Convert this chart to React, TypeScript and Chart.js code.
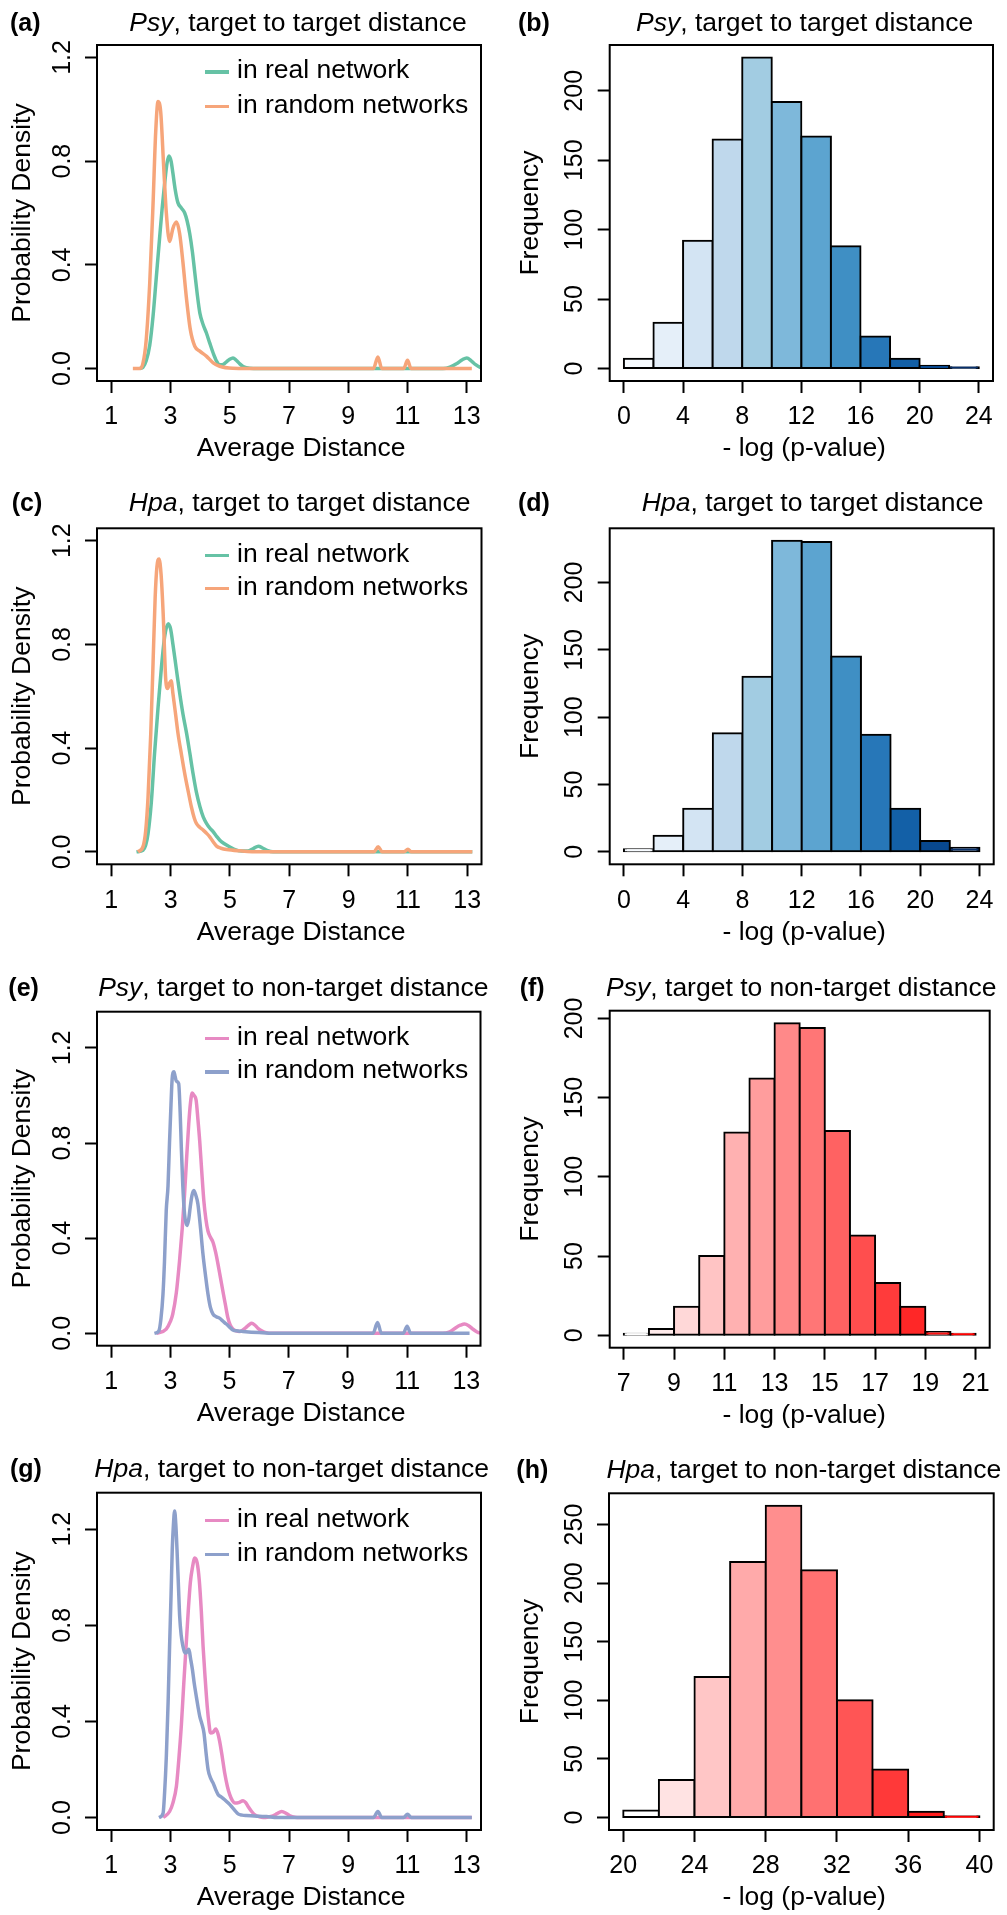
import React, { useEffect, useRef } from "react";
import { Chart, registerables } from "chart.js";
Chart.register(...registerables);

const FONT = '"Liberation Sans", Arial, Helvetica, sans-serif';
const GREEN = "#66C2A5";
const ORANGE = "#F6A57A";
const PINK = "#E78AC3";
const BLUE = "#8DA0CB";

// ---------- density data (Average Distance vs Probability Density) ----------
const A_RAND_X = [1.73,1.96,2.07,2.18,2.3,2.41,2.5,2.58,2.67,2.77,2.86,2.97,3.08,3.2,3.31,3.42,3.54,3.67,3.82,3.99,4.21,4.44,4.66,5.1,5.6,9.85,10.0,10.13,10.87,11.0,11.12,13.17];
const A_RAND_Y = [0,0,0.02,0.11,0.33,0.63,0.91,1.03,0.99,0.78,0.6,0.49,0.54,0.565,0.52,0.41,0.27,0.15,0.086,0.067,0.048,0.022,0.009,0.001,0,0,0.045,0,0,0.032,0,0];
const A_REAL_X = [1.96,2.07,2.18,2.3,2.41,2.52,2.63,2.72,2.8,2.88,2.95,3.02,3.08,3.16,3.25,3.36,3.48,3.56,3.65,3.74,3.82,3.9,3.99,4.1,4.21,4.32,4.44,4.55,4.66,4.78,4.89,5.0,5.11,5.22,5.34,5.45,5.56,5.8,12.2,12.43,12.66,12.85,13.0,13.15,13.3,13.45,13.7];
const A_REAL_Y = [0,0.005,0.03,0.09,0.2,0.35,0.5,0.62,0.71,0.79,0.82,0.8,0.755,0.69,0.64,0.62,0.6,0.57,0.52,0.45,0.37,0.29,0.215,0.17,0.138,0.1,0.06,0.03,0.015,0.016,0.026,0.036,0.041,0.032,0.018,0.008,0.003,0,0,0.005,0.019,0.034,0.041,0.03,0.015,0.005,0];

const C_RAND_X = [1.9,2.07,2.16,2.24,2.33,2.41,2.48,2.54,2.61,2.68,2.75,2.84,2.9,2.96,3.02,3.08,3.17,3.25,3.36,3.48,3.6,3.7,3.8,3.87,3.98,4.1,4.21,4.32,4.44,4.55,4.7,4.89,5.34,6.0,9.85,10.0,10.13,10.87,11.0,11.12,13.17];
const C_RAND_Y = [0,0.02,0.08,0.21,0.45,0.73,0.98,1.1,1.13,1.07,0.92,0.66,0.63,0.65,0.66,0.61,0.53,0.457,0.38,0.3,0.23,0.174,0.13,0.11,0.095,0.084,0.072,0.058,0.038,0.022,0.014,0.009,0.004,0,0,0.02,0,0,0.01,0,0];
const C_REAL_X = [1.85,2.07,2.16,2.24,2.35,2.46,2.58,2.69,2.8,2.92,3.0,3.08,3.2,3.31,3.42,3.54,3.65,3.76,3.87,3.99,4.1,4.21,4.32,4.44,4.55,4.66,4.8,5.0,5.2,5.4,5.6,5.79,5.96,6.1,6.25,6.45,13.17];
const C_REAL_Y = [0,0.006,0.025,0.07,0.19,0.38,0.56,0.71,0.83,0.88,0.86,0.8,0.7,0.61,0.53,0.457,0.38,0.3,0.23,0.174,0.135,0.11,0.092,0.077,0.06,0.045,0.032,0.019,0.008,0.003,0.003,0.013,0.022,0.015,0.006,0,0];

const E_RAND_X = [2.46,2.61,2.68,2.75,2.8,2.86,2.92,2.97,3.02,3.06,3.12,3.16,3.2,3.28,3.33,3.37,3.42,3.48,3.56,3.62,3.67,3.73,3.79,3.86,3.93,4.02,4.1,4.19,4.27,4.35,4.44,4.55,4.66,4.77,4.89,5.0,5.11,5.28,5.45,6.0,6.5,9.85,10.0,10.13,10.87,11.0,11.12,13.11];
const E_RAND_Y = [0,0.01,0.06,0.165,0.3,0.516,0.62,0.8,0.96,1.07,1.1,1.08,1.06,1.05,0.93,0.78,0.62,0.5,0.453,0.48,0.53,0.58,0.6,0.58,0.544,0.44,0.334,0.24,0.165,0.11,0.081,0.07,0.064,0.052,0.039,0.026,0.014,0.01,0.008,0.003,0,0,0.046,0,0,0.03,0,0];
const E_REAL_X = [2.52,2.86,3.0,3.08,3.2,3.31,3.4,3.48,3.55,3.62,3.68,3.74,3.8,3.87,3.93,3.99,4.06,4.13,4.2,4.27,4.35,4.44,4.53,4.61,4.69,4.77,4.86,4.94,5.02,5.11,5.22,5.34,5.45,5.56,5.66,5.75,5.85,5.96,6.1,6.24,6.4,12.2,12.44,12.66,12.8,12.94,13.08,13.22,13.35,13.45,13.7];
const E_REAL_Y = [0,0.018,0.05,0.081,0.17,0.306,0.44,0.586,0.74,0.88,0.97,1.01,1.0,0.98,0.9,0.81,0.68,0.558,0.48,0.43,0.405,0.383,0.34,0.29,0.235,0.18,0.12,0.067,0.035,0.018,0.01,0.008,0.014,0.025,0.036,0.042,0.035,0.021,0.01,0.003,0,0,0.006,0.025,0.034,0.039,0.032,0.018,0.007,0.002,0];

const G_RAND_X = [2.61,2.75,2.8,2.86,2.92,2.97,3.02,3.06,3.1,3.14,3.18,3.22,3.27,3.31,3.36,3.42,3.47,3.51,3.56,3.62,3.68,3.74,3.8,3.87,3.93,3.99,4.06,4.13,4.2,4.27,4.35,4.44,4.52,4.61,4.72,4.83,4.95,5.06,5.17,5.28,5.42,5.56,6.0,6.24,6.6,9.85,10.0,10.13,10.87,11.0,11.12,13.17];
const G_RAND_Y = [0,0.018,0.1,0.254,0.48,0.713,0.93,1.116,1.22,1.276,1.22,1.116,0.96,0.838,0.76,0.713,0.69,0.685,0.69,0.7,0.66,0.616,0.56,0.505,0.46,0.42,0.39,0.352,0.27,0.199,0.165,0.143,0.118,0.095,0.085,0.074,0.06,0.046,0.03,0.015,0.01,0.008,0.005,0.004,0,0,0.025,0,0,0.014,0,0];
const G_REAL_X = [2.75,2.97,3.08,3.2,3.28,3.37,3.45,3.54,3.6,3.67,3.74,3.82,3.9,3.97,4.04,4.1,4.17,4.24,4.3,4.35,4.44,4.53,4.6,4.66,4.75,4.83,4.92,5.0,5.09,5.17,5.3,5.45,5.54,5.62,5.74,5.85,6.0,6.13,6.3,6.46,6.6,6.75,6.9,7.03,7.2,7.37,13.17];
const G_REAL_Y = [0,0.025,0.06,0.13,0.24,0.39,0.56,0.74,0.86,0.978,1.04,1.08,1.06,0.99,0.86,0.713,0.58,0.463,0.39,0.352,0.355,0.368,0.35,0.317,0.25,0.185,0.13,0.095,0.07,0.06,0.062,0.07,0.062,0.046,0.025,0.011,0.003,0,0.002,0.007,0.016,0.025,0.018,0.007,0.001,0,0];

const DENS_X_TICKS = [1, 3, 5, 7, 9, 11, 13];
const DENS_Y_TICKS = [0, 0.4, 0.8, 1.2];

// ---------- histogram data (-log p-value vs Frequency) ----------
const B_BINS = [0, 2, 4, 6, 8, 10, 12, 14, 16, 18, 20, 22, 24];
const B_COUNTS = [7, 33, 92, 165, 224, 192, 167, 88, 23, 7, 2, 1];
const D_BINS = [0, 2, 4, 6, 8, 10, 12, 14, 16, 18, 20, 22, 24];
const D_COUNTS = [2, 12, 32, 88, 130, 231, 230, 145, 87, 32, 8, 3];
const F_BINS = [7, 8, 9, 10, 11, 12, 13, 14, 15, 16, 17, 18, 19, 20, 21];
const F_COUNTS = [1, 4, 18, 50, 128, 162, 197, 194, 129, 63, 33, 18, 2, 1];
const H_BINS = [20, 22, 24, 26, 28, 30, 32, 34, 36, 38, 40];
const H_COUNTS = [6, 32, 120, 218, 266, 211, 100, 41, 5, 1];

const BD_X_TICKS = [0, 4, 8, 12, 16, 20, 24];
const F_X_TICKS = [7, 9, 11, 13, 15, 17, 19, 21];
const H_X_TICKS = [20, 24, 28, 32, 36, 40];
const BDF_Y_TICKS = [0, 50, 100, 150, 200];
const H_Y_TICKS = [0, 50, 100, 150, 200, 250];

const BLUES = ["#F7FBFF", "#DEEBF7", "#C6DBEF", "#9ECAE1", "#6BAED6", "#4292C6", "#2171B5", "#08519C", "#08306B"];
const REDS = ["#FFFFFF", "#FF0000"];

function hexToRgb(h: string) {
  const n = parseInt(h.slice(1), 16);
  return [(n >> 16) & 255, (n >> 8) & 255, n & 255];
}
function ramp(stops: string[], n: number): string[] {
  const rgb = stops.map(hexToRgb);
  const out: string[] = [];
  for (let i = 0; i < n; i++) {
    const t = n === 1 ? 0 : (i / (n - 1)) * (stops.length - 1);
    const k = Math.min(Math.floor(t), stops.length - 2);
    const f = t - k;
    const c = [0, 1, 2].map((j) => Math.round(rgb[k][j] + (rgb[k + 1][j] - rgb[k][j]) * f));
    out.push(`rgb(${c[0]},${c[1]},${c[2]})`);
  }
  return out;
}

const TITLE_SIZE = 26.5;
const TICK_SIZE = 25;
const LH = TITLE_SIZE * 1.2;
const XTITLE_CENTER = 301.2; // x-axis title centre, in panel coordinates

const boxPlugin = {
  id: "rbox",
  afterDatasetsDraw(chart: any) {
    const { ctx, chartArea } = chart;
    ctx.save();
    ctx.strokeStyle = "#000";
    ctx.lineWidth = 2;
    ctx.strokeRect(chartArea.left, chartArea.top, chartArea.right - chartArea.left, chartArea.bottom - chartArea.top);
    ctx.restore();
  },
};

function buildOptions(o: any) {
  const gridOpts = { display: true, drawOnChartArea: false, drawTicks: true, tickLength: 12, tickWidth: 2, tickColor: "#000", offset: false };
  const titleShift = XTITLE_CENTER - (o.box.L + o.box.R) / 2;
  return {
    responsive: false,
    animation: false,
    devicePixelRatio: 1,
    events: [],
    layout: { padding: { left: 0, top: o.box.T, right: o.W - o.box.R, bottom: 0 } },
    plugins: { legend: { display: false }, tooltip: { enabled: false }, title: { display: false } },
    scales: {
      x: {
        type: "linear",
        min: o.xmin,
        max: o.xmax,
        bounds: "data",
        offset: false,
        afterBuildTicks: (s: any) => {
          s.ticks = o.xticks.map((v: number) => ({ value: v }));
        },
        afterFit: (s: any) => {
          s.height = o.H - o.box.B;
          s.paddingLeft = 0;
          s.paddingRight = 0;
          if (!s.__shifted) {
            const orig = s.drawTitle;
            s.drawTitle = function () {
              this.ctx.save();
              this.ctx.translate(titleShift, 0);
              orig.call(this);
              this.ctx.restore();
            };
            s.__shifted = true;
          }
        },
        grid: gridOpts,
        border: { display: false },
        ticks: {
          autoSkip: false,
          minRotation: 0,
          maxRotation: 0,
          padding: 9.5,
          color: "#000",
          font: { family: FONT, size: TICK_SIZE },
          callback: (v: any) => String(v),
        },
        title: {
          display: true,
          text: o.xTitle,
          color: "#000",
          font: { family: FONT, size: TITLE_SIZE },
          padding: { top: 0, bottom: o.H - o.box.B - 68 - LH / 2 },
        },
      },
      y: {
        type: "linear",
        min: o.ymin,
        max: o.ymax,
        bounds: "data",
        afterBuildTicks: (s: any) => {
          s.ticks = o.yticks.map((v: number) => ({ value: v }));
        },
        afterFit: (s: any) => {
          s.width = o.box.L;
          s.paddingTop = 0;
          s.paddingBottom = 0;
        },
        grid: gridOpts,
        border: { display: false },
        ticks: {
          autoSkip: false,
          minRotation: 90,
          maxRotation: 90,
          crossAlign: "center",
          padding: o.yTickPad,
          color: "#000",
          font: { family: FONT, size: TICK_SIZE },
          callback: o.yFmt,
        },
        title: {
          display: true,
          text: o.yTitle,
          color: "#000",
          font: { family: FONT, size: TITLE_SIZE },
          padding: { top: o.yTitleX - LH / 2, bottom: 0 },
        },
      },
    },
  };
}

function pts(xs: number[], ys: number[]) {
  return xs.map((x, i) => ({ x, y: ys[i] }));
}

function densityConfig(p: any, W: number, H: number) {
  const lo = 1, hi = 13;
  const ext = (hi - lo) * 0.04;
  const lineDs = (label: string, xs: number[], ys: number[], color: string) => ({
    label,
    data: pts(xs, ys),
    borderColor: color,
    backgroundColor: color,
    borderWidth: 3.5,
    pointRadius: 0,
    fill: false,
    tension: 0.4,
    cubicInterpolationMode: "monotone",
  });
  return {
    type: "line",
    data: {
      datasets: [
        lineDs("in random networks", p.randX, p.randY, p.randColor),
        lineDs("in real network", p.realX, p.realY, p.realColor),
      ],
    },
    options: buildOptions({
      W, H, box: p.box,
      xmin: lo - ext, xmax: hi + ext, xticks: DENS_X_TICKS,
      ymin: -0.04 * p.ylim, ymax: 1.04 * p.ylim, yticks: DENS_Y_TICKS,
      yFmt: (v: any) => Number(v).toFixed(1), yTickPad: 4.5,
      xTitle: "Average Distance", yTitle: "Probability Density", yTitleX: 22.5,
    }),
    plugins: [boxPlugin],
  };
}

function histConfig(p: any, W: number, H: number) {
  const bins: number[] = p.bins;
  const counts: number[] = p.counts;
  const lo = bins[0], hi = bins[bins.length - 1];
  const ext = (hi - lo) * 0.04;
  const maxC = Math.max(...counts);
  const colors = ramp(p.palette, counts.length);
  return {
    type: "bar",
    data: {
      datasets: [
        {
          label: "Frequency",
          data: counts.map((c, i) => ({ x: (bins[i] + bins[i + 1]) / 2, y: c })),
          backgroundColor: colors,
          borderColor: "#000",
          borderWidth: 2,
          borderSkipped: false,
          inflateAmount: 1,
          barPercentage: 1,
          categoryPercentage: 1,
          grouped: false,
        },
      ],
    },
    options: buildOptions({
      W, H, box: p.box,
      xmin: lo - ext, xmax: hi + ext, xticks: p.xticks,
      ymin: -0.04 * maxC, ymax: 1.04 * maxC, yticks: p.yticks,
      yFmt: (v: any) => String(v), yTickPad: 1.5,
      xTitle: "- log (p-value)", yTitle: "Frequency", yTitleX: 27.8,
    }),
    plugins: [boxPlugin],
  };
}

const PANELS: any[] = [
  { id: "a", kind: "dens", col: 0, row: 0, species: "Psy", rest: ", target to target distance",
    box: { L: 97, T: 45, R: 481, B: 381 }, ylim: 1.2,
    realX: A_REAL_X, realY: A_REAL_Y, randX: A_RAND_X, randY: A_RAND_Y, realColor: GREEN, randColor: ORANGE,
    titleCx: 298, titleCy: 22, labelX: 10, legY: [71.7, 106] },
  { id: "b", kind: "hist", col: 1, row: 0, species: "Psy", rest: ", target to target distance",
    box: { L: 106.7, T: 45, R: 490, B: 381 }, bins: B_BINS, counts: B_COUNTS, palette: BLUES,
    xticks: BD_X_TICKS, yticks: BDF_Y_TICKS, titleCx: 804.7, titleCy: 22, labelX: 518 },
  { id: "c", kind: "dens", col: 0, row: 1, species: "Hpa", rest: ", target to target distance",
    box: { L: 97, T: 48.3, R: 481.5, B: 384.3 }, ylim: 1.2,
    realX: C_REAL_X, realY: C_REAL_Y, randX: C_RAND_X, randY: C_RAND_Y, realColor: GREEN, randColor: ORANGE,
    titleCx: 299.7, titleCy: 501.7, labelX: 11.7, legY: [555, 588.3] },
  { id: "d", kind: "hist", col: 1, row: 1, species: "Hpa", rest: ", target to target distance",
    box: { L: 106.7, T: 48.3, R: 490.7, B: 384.3 }, bins: D_BINS, counts: D_COUNTS, palette: BLUES,
    xticks: BD_X_TICKS, yticks: BDF_Y_TICKS, titleCx: 812.7, titleCy: 501.7, labelX: 518 },
  { id: "e", kind: "dens", col: 0, row: 2, species: "Psy", rest: ", target to non-target distance",
    box: { L: 97, T: 51.7, R: 480.5, B: 385.7 }, ylim: 1.3,
    realX: E_REAL_X, realY: E_REAL_Y, randX: E_RAND_X, randY: E_RAND_Y, realColor: PINK, randColor: BLUE,
    titleCx: 293.3, titleCy: 987, labelX: 8.3, legY: [1038.3, 1071.7] },
  { id: "f", kind: "hist", col: 1, row: 2, species: "Psy", rest: ", target to non-target distance",
    box: { L: 106.7, T: 50.7, R: 486.7, B: 387.7 }, bins: F_BINS, counts: F_COUNTS, palette: REDS,
    xticks: F_X_TICKS, yticks: BDF_Y_TICKS, titleCx: 801.3, titleCy: 987, labelX: 519.7 },
  { id: "g", kind: "dens", col: 0, row: 3, species: "Hpa", rest: ", target to non-target distance",
    box: { L: 97, T: 52.7, R: 481, B: 390 }, ylim: 1.3,
    realX: G_REAL_X, realY: G_REAL_Y, randX: G_RAND_X, randY: G_RAND_Y, realColor: PINK, randColor: BLUE,
    titleCx: 291.7, titleCy: 1467.5, labelX: 10, legY: [1520, 1554.3] },
  { id: "h", kind: "hist", col: 1, row: 3, species: "Hpa", rest: ", target to non-target distance",
    box: { L: 106, T: 53.3, R: 490.7, B: 390 }, bins: H_BINS, counts: H_COUNTS, palette: REDS,
    xticks: H_X_TICKS, yticks: H_Y_TICKS, titleCx: 803.8, titleCy: 1469, labelX: 516.3 },
];

function ChartCanvas({ p, W, H }: { p: any; W: number; H: number }) {
  const ref = useRef<HTMLCanvasElement>(null);
  useEffect(() => {
    if (!ref.current) return;
    const cfg: any = p.kind === "dens" ? densityConfig(p, W, H) : histConfig(p, W, H);
    const chart = new Chart(ref.current, cfg);
    return () => chart.destroy();
  }, []);
  return <canvas ref={ref} width={W} height={H} style={{ width: W, height: H, display: "block" }} />;
}

function PanelView({ p }: { p: any }) {
  const x0 = p.col === 0 ? 0 : 503;
  const y0 = p.row * 480;
  const W = p.col === 0 ? 503 : 504;
  const H = p.row === 3 ? 475 : 480;
  const textBase: any = { position: "absolute", fontFamily: FONT, color: "#000", whiteSpace: "nowrap" };
  return (
    <>
      <div style={{ position: "absolute", left: x0, top: y0, width: W, height: H }}>
        <ChartCanvas p={p} W={W} H={H} />
      </div>
      <div style={{ ...textBase, left: p.titleCx - 300, width: 600, top: p.titleCy - 16, height: 32, lineHeight: "32px", textAlign: "center", fontSize: TITLE_SIZE }}>
        <i>{p.species}</i>{p.rest}
      </div>
      <div style={{ ...textBase, left: p.labelX, top: p.titleCy - 16, height: 32, lineHeight: "32px", fontSize: 25, fontWeight: "bold" }}>
        ({p.id})
      </div>
      {p.kind === "dens" &&
        [
          { y: p.legY[0], color: p.realColor, text: "in real network" },
          { y: p.legY[1], color: p.randColor, text: "in random networks" },
        ].map((it, i) => (
          <React.Fragment key={i}>
            <div style={{ position: "absolute", left: 205, top: it.y - 1.5, width: 24, height: 3.5, background: it.color }} />
            <div style={{ ...textBase, left: 237, top: it.y - 19.5, height: 34, lineHeight: "34px", fontSize: TITLE_SIZE }}>{it.text}</div>
          </React.Fragment>
        ))}
    </>
  );
}

export default function App() {
  return (
    <div style={{ position: "absolute", left: 0, top: 0, width: 1007, height: 1915, background: "#fff", overflow: "hidden" }}>
      {PANELS.map((p) => (
        <PanelView key={p.id} p={p} />
      ))}
    </div>
  );
}
